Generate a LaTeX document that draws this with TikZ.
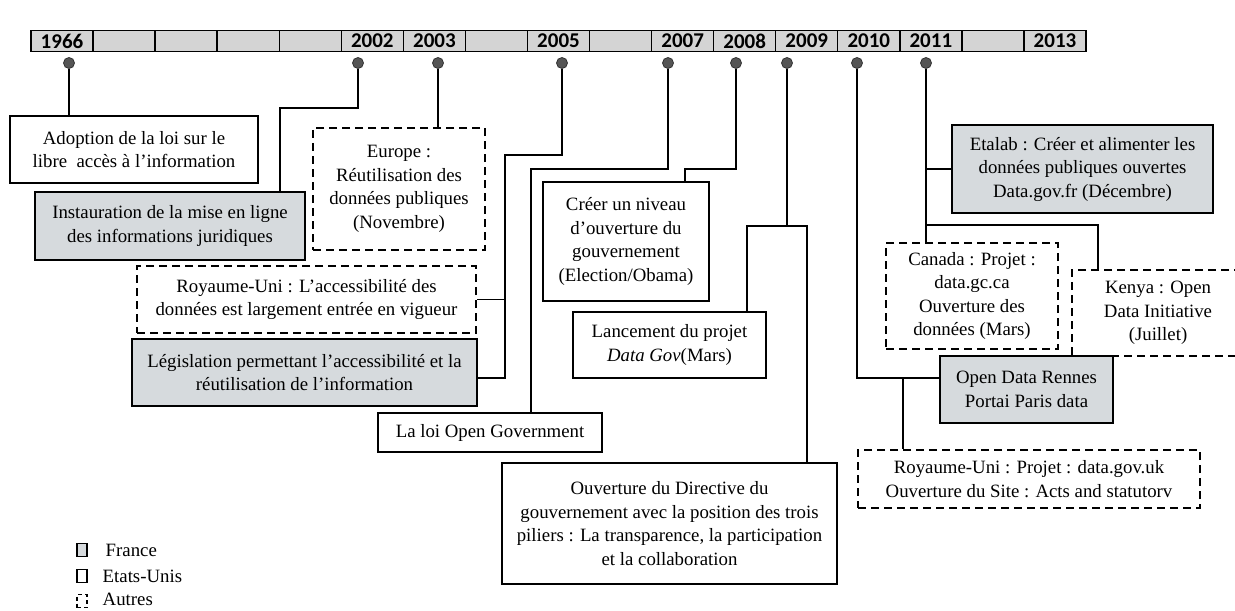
\documentclass[tikz,border=0pt]{standalone}
\usepackage{fontspec}
\setmainfont{Liberation Serif}
\newfontfamily\yearfont{Carlito}
\usetikzlibrary{positioning}
\definecolor{frgray}{RGB}{214,218,221}
\definecolor{cellgray}{RGB}{212,212,212}
\definecolor{dotgray}{RGB}{85,85,85}

\begin{document}
\begin{tikzpicture}[x=0.5pt, y=-0.5pt, line width=0.7pt]
  \tikzset{every node/.style={font=\fontsize{9.4}{11.75}\selectfont, align=center, inner sep=0pt},
    france/.style={draw, line width=0.8pt, fill=frgray},
    usa/.style={draw, line width=0.8pt, fill=white},
    autres/.style={draw, line width=0.8pt, dash pattern=on 4pt off 2.5pt},
    yearcell/.style={draw, fill=cellgray, minimum width=31.03pt, minimum height=10.5pt,
      font=\yearfont\bfseries\fontsize{10.5}{12}\selectfont},
    yeardot/.style={circle, fill=dotgray, draw=black!80, line width=0.4pt, minimum size=5.5pt}}
  \useasboundingbox (0,0) rectangle (1235,610);
  \clip (0,0) rectangle (1235,610);

  % time line
  \foreach \yr [count=\i from 0] in {1966,,,,,2002,2003,,2005,,2007,2008,2009,2010,2011,,2013}
    \node[yearcell] (cell\i) at ({62.03+62.06*\i},41) {\yr};
  \foreach \yr/\x in {1966/69, 2002/358, 2003/438, 2005/562, 2007/668, 2008/736, 2009/787, 2010/857, 2011/926}
    \node[yeardot] (d\yr) at (\x,63) {};

  % events
  \node[usa, minimum width=124pt, minimum height=33.5pt] (adopt) at (134,149.5)
    {Adoption de la loi sur le\\libre\ \ accès à l’information};
  \node[france, minimum width=135pt, minimum height=34pt] (instaur) at (170,226)
    {Instauration de la mise en ligne\\des informations juridiques};
  \node[autres, minimum width=86pt, minimum height=61pt] (europe) at (399,189)
    {Europe :\\Réutilisation des\\données publiques\\(Novembre)};
  \node[autres, minimum width=169.5pt, minimum height=33.5pt] (ruacc) at (306.5,299.5)
    {Royaume-Uni : L’accessibilité des\\données est largement entrée en vigueur};
  \node[france, minimum width=172.5pt, minimum height=33.5pt] (legis) at (304.5,372.5)
    {Législation permettant l’accessibilité et la\\réutilisation de l’information};
  \node[usa, minimum width=112pt, minimum height=19.5pt] (loi) at (490,432.5)
    {La loi Open Government};
  \node[usa, minimum width=83pt, minimum height=59.5pt] (creer) at (626,241.5)
    {Créer un niveau\\d’ouverture du\\gouvernement\\(Election/Obama)};
  \node[usa, minimum width=96.5pt, minimum height=33pt] (lanc) at (669.5,345)
    {Lancement du projet\\\textit{Data Gov}(Mars)};
  \node[usa, minimum width=167.5pt, minimum height=60.5pt] (ouvdir) at (669.5,523.5)
    {Ouverture du Directive du\\gouvernement avec la position des trois\\piliers : La transparence, la participation\\et la collaboration};
  \node[france, minimum width=130.5pt, minimum height=44pt] (etalab) at (1082.5,169)
    {Etalab : Créer et alimenter les\\données publiques ouvertes\\Data.gov.fr (Décembre)};
  \node[autres, minimum width=86pt, minimum height=53pt] (canada) at (972,296)
    {Canada : Projet :\\data.gc.ca\\Ouverture des\\données (Mars)};
  \node[autres, minimum width=86pt, minimum height=43pt] (kenya) at (1158,313)
    {Kenya : Open\\Data Initiative\\(Juillet)};
  \node[france, minimum width=86.5pt, minimum height=33.5pt] (rennes) at (1026.5,389.5)
    {Open Data Rennes\\Portai Paris data};
  \node[autres, minimum width=171pt, minimum height=29pt] (rudata) at (1029,479)
    {Royaume-Uni : Projet : data.gov.uk\\Ouverture du Site : Acts and statutorv};

  % bends
  \coordinate (k2002) at (280,108);
  \coordinate (k2005) at (505,155);
  \coordinate (k2007) at (531,169);
  \coordinate (k2008) at (685,169);
  \coordinate (k2009l) at (747,226);
  \coordinate (k2009r) at (807,226);
  \coordinate (k2010) at (903,378);
  \coordinate (k2011) at (1098,225);

  % links
  \draw (d1966.south) -- (d1966 |- adopt.north);
  \draw (d2002.south) |- (k2002) -- (k2002 |- instaur.north);
  \draw (d2003.south) -- (d2003 |- europe.north);
  \draw (d2005.south) |- (k2005) |- ([yshift=-2.75pt]legis.east);
  \draw (k2005 |- ruacc.east) -- (ruacc.east);
  \draw (d2007.south) |- (k2007) -- (k2007 |- loi.north);
  \draw (d2008.south) |- (k2008) -- (k2008 |- creer.north);
  \draw (d2009.south) -- (d2009 |- k2009l);
  \draw (k2009l |- lanc.north) -- (k2009l) -- (k2009r) -- (k2009r |- ouvdir.north);
  \draw (d2010.south) |- ([yshift=5.75pt]rennes.west);
  \draw (k2010) -- (k2010 |- rudata.north);
  \draw (d2011.south) -- (d2011 |- canada.north);
  \draw (d2011 |- etalab.west) -- (etalab.west);
  \draw (d2011 |- k2011) -- (k2011) -- (k2011 |- kenya.north);

  % legend
  \node[france, minimum width=5pt, minimum height=6.5pt] (lfr) at (82,550) {};
  \node[usa, minimum width=5pt, minimum height=6.5pt] (lus) at (82,576) {};
  \node[draw, line width=0.8pt, dash pattern=on 2pt off 1.5pt, minimum width=5pt, minimum height=6.5pt] (lau) at (82,601) {};
  \node[anchor=west] (tfr) at (105,550) {France};
  \node[anchor=west] (tus) at (102,576) {Etats-Unis};
  \node[anchor=west] (tau) at (102,599) {Autres};
\end{tikzpicture}
\end{document}
